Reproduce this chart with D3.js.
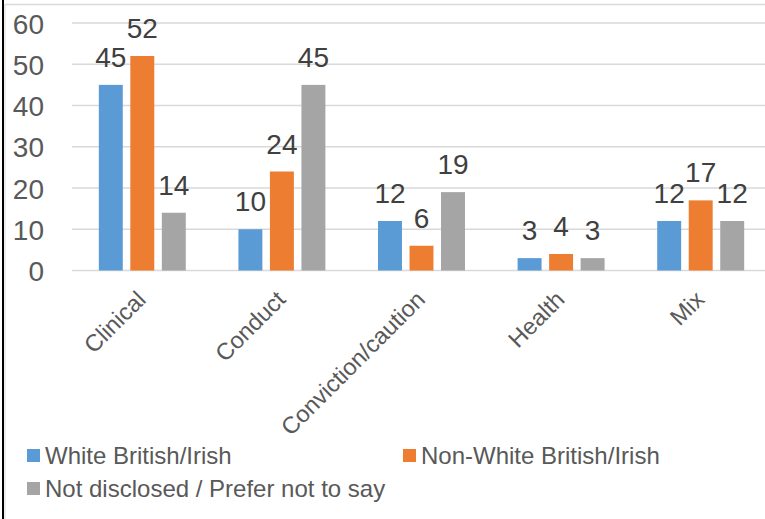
<!DOCTYPE html>
<html><head><meta charset="utf-8">
<script src="https://cdn.jsdelivr.net/npm/d3@7"></script>
<style>html,body{margin:0;padding:0;background:#fff;}svg{display:block;font-family:"Liberation Sans",Arial,sans-serif;}</style>
</head><body>
<svg id="c" width="765" height="519"></svg>
<script>
const categories = ["Clinical","Conduct","Conviction/caution","Health","Mix"];
const seriesNames = ["White British/Irish","Non-White British/Irish","Not disclosed / Prefer not to say"];
const whiteBritish = [45,10,12,3,12];
const nonWhiteBritish = [52,24,6,4,17];
const notDisclosed = [14,45,19,3,12];
const yTicks = [0,10,20,30,40,50,60];
const colors = ["#5B9BD5","#ED7D31","#A5A5A5"];

const series = [whiteBritish, nonWhiteBritish, notDisclosed];
const svg = d3.select("#c");

// borders
svg.append("line").attr("x1",5).attr("x2",765).attr("y1",4.5).attr("y2",4.5).attr("stroke","#d9d9d9").attr("stroke-width",1.5);
svg.append("line").attr("x1",5).attr("x2",5).attr("y1",4).attr("y2",519).attr("stroke","#d9d9d9").attr("stroke-width",1);
svg.append("line").attr("x1",3).attr("x2",3).attr("y1",0).attr("y2",519).attr("stroke","#000").attr("stroke-width",2);

const x0 = d3.scaleBand().domain(categories).range([72.5,770.5]).paddingInner(0.377).paddingOuter(0.1885);
const x1 = d3.scaleBand().domain(d3.range(3)).range([0,x0.bandwidth()]).paddingInner(0.24);
const y = d3.scaleLinear().domain([0,60]).range([270.5,23]);

// gridlines
svg.append("g").selectAll("line").data(yTicks).join("line")
  .attr("x1",72).attr("x2",765).attr("y1",d=>y(d)).attr("y2",d=>y(d))
  .attr("stroke","#d9d9d9").attr("stroke-width",1.3);

// y axis labels
const yAxis = d3.axisLeft(y).tickValues(yTicks).tickSize(0).tickPadding(0);
const ya = svg.append("g").attr("transform","translate(44,0)").call(yAxis);
ya.select(".domain").remove();
ya.selectAll("text").attr("font-size",28).attr("fill","#595959").attr("font-family","Liberation Sans, Arial, sans-serif").attr("dy","0.36em");

// bars
const groups = svg.append("g").selectAll("g").data(categories).join("g")
  .attr("transform",d=>`translate(${x0(d)},0)`);
groups.selectAll("rect").data((d,i)=>series.map((s,k)=>({k,v:s[i]}))).join("rect")
  .attr("x",d=>x1(d.k)).attr("width",x1.bandwidth())
  .attr("y",d=>y(d.v)).attr("height",d=>y(0)-y(d.v))
  .attr("fill",d=>colors[d.k]);
groups.selectAll("text").data((d,i)=>series.map((s,k)=>({k,v:s[i]}))).join("text")
  .attr("x",d=>x1(d.k)+x1.bandwidth()/2).attr("y",d=>y(d.v)-18)
  .attr("text-anchor","middle").attr("font-size",28).attr("fill","#404040")
  .text(d=>d.v);

// category labels
svg.append("g").selectAll("text").data(categories).join("text")
  .attr("transform",d=>`translate(${x0(d)+x0.bandwidth()/2+5},${301}) rotate(-45)`)
  .attr("text-anchor","end").attr("font-size",23.5).attr("fill","#595959")
  .text(d=>d);

// legend
const legendPos = [[27,456],[403,456],[27,489]];
const lg = svg.append("g").selectAll("g").data(seriesNames).join("g")
  .attr("transform",(d,i)=>`translate(${legendPos[i][0]},${legendPos[i][1]})`);
lg.append("rect").attr("x",0).attr("y",-7).attr("width",13).attr("height",13).attr("fill",(d,i)=>colors[i]);
lg.append("text").attr("x",18).attr("y",0).attr("dy","0.35em").attr("font-size",24).attr("fill","#595959").text(d=>d);
</script>
</body></html>
